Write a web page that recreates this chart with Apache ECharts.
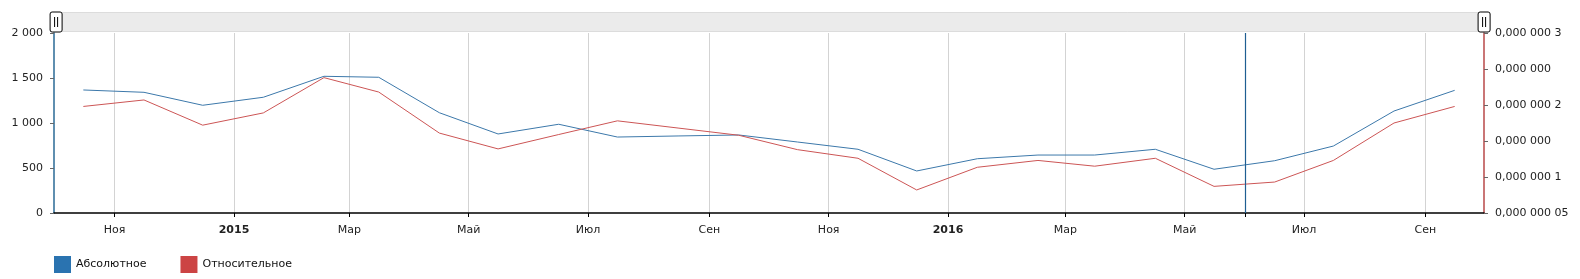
<!DOCTYPE html>
<html>
<head>
<meta charset="utf-8">
<script src="https://cdn.jsdelivr.net/npm/echarts@6/dist/echarts.min.js"></script>
<style>
html,body{margin:0;padding:0;background:#fff;}
#chart{width:1580px;height:279px;}
</style>
</head>
<body>
<div id="chart"></div>
<script>
// ---- data ----
const months = ['2014-10-16','2014-11-16','2014-12-16','2015-01-16','2015-02-16','2015-03-16','2015-04-16','2015-05-16','2015-06-16','2015-07-16','2015-08-16','2015-09-16','2015-10-16','2015-11-16','2015-12-16','2016-01-16','2016-02-16','2016-03-16','2016-04-16','2016-05-16','2016-06-16','2016-07-16','2016-08-16','2016-09-16'];
const absoluteValues = [1367,1341,1197,1286,1519,1508,1114,878,986,844,856,867,789,708,467,603,644,644,708,486,581,744,1133,1363];
const relativeValues = [1.98e-7,2.07e-7,1.72e-7,1.89e-7,2.38e-7,2.18e-7,1.61e-7,1.39e-7,1.59e-7,1.78e-7,1.68e-7,1.58e-7,1.38e-7,1.26e-7,0.82e-7,1.135e-7,1.23e-7,1.15e-7,1.26e-7,0.87e-7,0.93e-7,1.23e-7,1.75e-7,1.98e-7];
const seriesNames = ['Абсолютное','Относительное'];
const xTickDates = ['2014-11-01','2015-01-01','2015-03-01','2015-05-01','2015-07-01','2015-09-01','2015-11-01','2016-01-01','2016-03-01','2016-05-01','2016-07-01','2016-09-01'];
const xTickLabels = ['Ноя','2015','Мар','Май','Июл','Сен','Ноя','2016','Мар','Май','Июл','Сен'];
const cursorDate = '2016-06-01';
const xRange = ['2014-10-01','2016-10-01'];
const leftTickLabels = ['0','500','1 000','1 500','2 000'];
const rightTickLabels = ['0,000 000 05','0,000 000 1','0,000 000','0,000 000 2','0,000 000','0,000 000 3'];

// ---- helpers ----
const ts = s => { const p = s.split('-').map(Number); return Date.UTC(p[0], p[1]-1, p[2]); };
const labelMap = {};
xTickDates.forEach((d,i)=>{ labelMap[ts(d)] = xTickLabels[i]; });

const FONT = 'DejaVu Sans';
const chart = echarts.init(document.getElementById('chart'));
chart.setOption({
  animation: false,
  textStyle: {fontFamily: FONT},
  grid: {left: 54, right: 96, top: 33, bottom: 66, containLabel: false},
  legend: {
    left: 54, top: 256, padding: 0, icon: 'rect', itemWidth: 17, itemHeight: 17, itemGap: 34,
    textStyle: {fontFamily: FONT, fontSize: 11, color: '#111'},
    data: seriesNames
  },
  dataZoom: [{
    type: 'slider', xAxisIndex: 0, top: 12, height: 20, left: 54, right: 96,
    start: 0, end: 100, filterMode: 'none', zoomLock: true,
    showDataShadow: false, showDetail: false, brushSelect: false, moveHandleSize: 0,
    backgroundColor: '#ebebeb', fillerColor: 'rgba(235,235,235,1)', borderColor: '#dcdcdc', borderRadius: 0,
    handleIcon: 'path://M2,0 H10 A2,2 0 0 1 12,2 V18 A2,2 0 0 1 10,20 H2 A2,2 0 0 1 0,18 V2 A2,2 0 0 1 2,0 Z M4.5,5 V15 M7.5,5 V15',
    handleSize: '100%',
    handleStyle: {color: '#fff', borderColor: '#000', borderWidth: 1}
  }],
  xAxis: {
    type: 'value',
    min: ts(xRange[0]), max: ts(xRange[1]),
    axisLine: {onZero: false, lineStyle: {color: '#000', width: 1.5}},
    axisTick: {show: true, length: 4, lineStyle: {color: '#000'}, customValues: xTickDates.map(ts).concat([ts(cursorDate)])},
    splitLine: {show: true, lineStyle: {color: '#d3d3d3', width: 1}},
    axisLabel: {
      customValues: xTickDates.map(ts),
      margin: 12, fontSize: 11, color: '#222', fontFamily: FONT,
      formatter: function (v) {
        const l = labelMap[v] || '';
        return /^\d{4}$/.test(l) ? '{b|' + l + '}' : l;
      },
      rich: {b: {fontWeight: 'bold', fontSize: 11, fontFamily: FONT, color: '#222'}}
    }
  },
  yAxis: [{
    type: 'value', position: 'left', min: 0, max: 2000, interval: 500,
    axisLine: {show: true, lineStyle: {color: '#2a6a96', width: 1.5}},
    axisTick: {show: true, length: 4, lineStyle: {color: '#666'}},
    splitLine: {show: false},
    axisLabel: {fontSize: 11, color: '#222', margin: 11, fontFamily: FONT,
      formatter: v => leftTickLabels[Math.round(v / 500)]}
  }, {
    type: 'value', position: 'right', min: 0.00000005, max: 0.0000003, interval: 0.00000005,
    axisLine: {show: true, lineStyle: {color: '#b84848', width: 1.5}},
    axisTick: {show: true, length: 4, lineStyle: {color: '#666'}},
    splitLine: {show: false},
    axisLabel: {fontSize: 11, color: '#222', margin: 11, fontFamily: FONT,
      formatter: v => rightTickLabels[Math.round(v / 0.00000005) - 1]}
  }],
  series: [{
    name: seriesNames[0], type: 'line', yAxisIndex: 0, symbol: 'none',
    color: '#2a73b0', lineStyle: {width: 1, color: '#3c78aa'},
    data: months.map((m,i)=>[ts(m), absoluteValues[i]]),
    markLine: {
      silent: true, symbol: ['none','none'], label: {show: false},
      lineStyle: {color: '#1f5e92', type: 'solid', width: 1.2},
      data: [{xAxis: ts(cursorDate)}]
    }
  }, {
    name: seriesNames[1], type: 'line', yAxisIndex: 1, symbol: 'none',
    color: '#cc4444', lineStyle: {width: 1, color: '#cc5555'},
    data: months.map((m,i)=>[ts(m), relativeValues[i]])
  }]
});
</script>
</body>
</html>
